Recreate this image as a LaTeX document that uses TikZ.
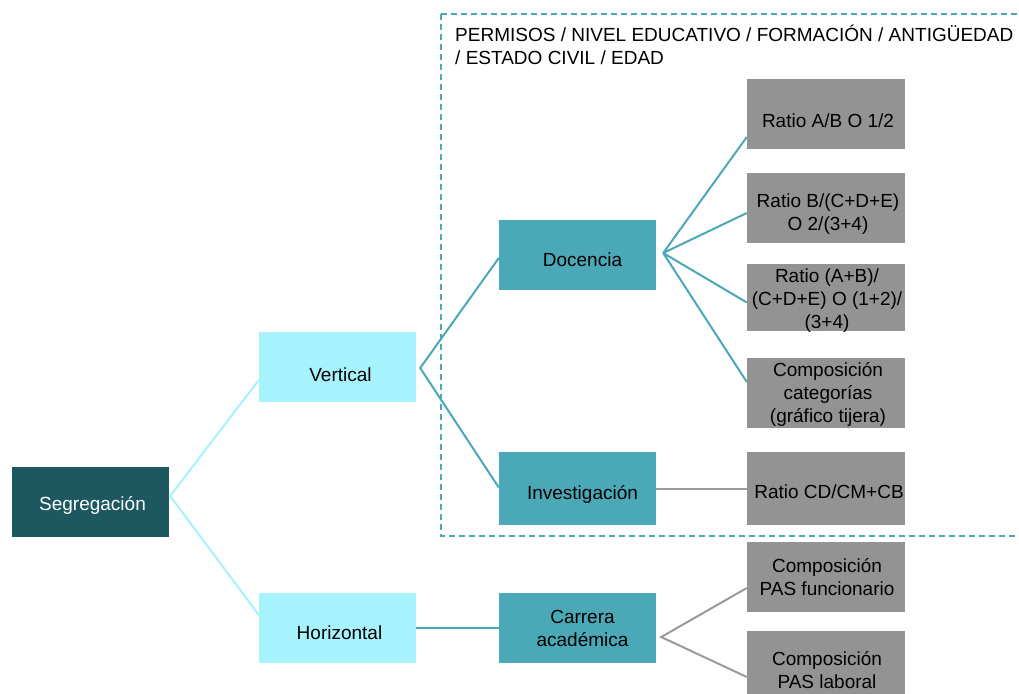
\documentclass[tikz,border=0pt]{standalone}
\usepackage{fontspec}
\setmainfont{Liberation Sans}
\usetikzlibrary{calc}
\definecolor{darkteal}{HTML}{1D5861}
\definecolor{lightcyan}{HTML}{A6F2FD}
\definecolor{midteal}{HTML}{4BA8B6}
\definecolor{boxgray}{HTML}{939393}
\definecolor{linegray}{HTML}{9A9A9A}
\tikzset{
  every node/.style={font=\fontsize{19}{23}\selectfont},
  every label/.style={align=center, inner sep=0pt, text=black},
  boxbase/.style={rectangle, inner sep=0pt, minimum width=157pt, minimum height=70pt, align=center},
  rootbox/.style={boxbase, fill=darkteal},
  lvlone/.style={boxbase, fill=lightcyan},
  lvltwo/.style={boxbase, fill=midteal},
  leafbox/.style={boxbase, minimum width=158pt, fill=boxgray},
  boxtext/.style n args={3}{label={[xshift=#1pt, yshift=-#2pt]center:{#3}}},
  conlight/.style={draw=lightcyan, line width=2pt},
  conteal/.style={draw=midteal, line width=2pt},
  congray/.style={draw=linegray, line width=2pt},
  framebox/.style={draw=midteal, line width=2pt, dash pattern=on 6pt off 4pt}
}
\begin{document}
\begin{tikzpicture}[x=1pt,y=-1pt]
\useasboundingbox (0,0) rectangle (1019,693);
\clip (0,0) rectangle (1019,693);
% dashed frame
\draw[framebox] (441,14) -- (1030,14) (441,14) -- (441,536) -- (1030,536);
\node[anchor=north west, align=left, inner sep=0pt, text=black] (hdr) at (455,25)
  {PERMISOS / NIVEL EDUCATIVO / FORMACIÓN / ANTIGÜEDAD\\/ ESTADO CIVIL / EDAD};

% nodes
\node[rootbox, label={[xshift=2pt, yshift=-3pt, text=white]center:Segregación}] (seg) at (90.5,502) {};
\node[lvlone, boxtext={3}{8}{Vertical}] (vert) at (337.5,367) {};
\node[lvlone, boxtext={2}{5}{Horizontal}] (hori) at (337.5,628) {};
\node[lvltwo, boxtext={5}{5}{Docencia}] (doc) at (577.5,255) {};
\node[lvltwo, minimum height=73pt, boxtext={5}{6}{Investigación}] (inv) at (577.5,488.5) {};
\node[lvltwo, boxtext={5}{0}{Carrera\\académica}] (car) at (577.5,628) {};
\node[leafbox, boxtext={2}{7}{Ratio A/B O 1/2}] (r1) at (826,114) {};
\node[leafbox, boxtext={2}{6}{Ratio B/(C+D+E)\\O 2/(3+4)}] (r2) at (826,208) {};
\node[leafbox, minimum height=67pt, boxtext={1}{3}{Ratio (A+B)/\\(C+D+E) O (1+2)/\\(3+4)}] (r3) at (826,297.5) {};
\node[leafbox, boxtext={2}{1}{Composición\\categorías\\(gráfico tijera)}] (r4) at (826,393) {};
\node[leafbox, minimum height=73pt, boxtext={3}{3}{Ratio CD/CM+CB}] (r5) at (826,488.5) {};
\node[leafbox, boxtext={1}{0}{Composición\\PAS funcionario}] (p1) at (826,577) {};
\node[leafbox, boxtext={1}{4}{Composición\\PAS laboral}] (p2) at (826,666) {};

% fan points
\coordinate (segfan) at ($(seg.east)+(1,-6)$);
\coordinate (vertfan) at ($(vert.east)+(4,1)$);
\coordinate (docfan) at ($(doc.east)+(7,-2)$);
\coordinate (carfan) at ($(car.east)+(5,9)$);

% connectors
\draw[conlight] ($(vert.west)+(0,13)$) -- (segfan) -- ($(hori.west)+(0,-13)$);
\draw[conteal] ($(doc.west)+(0,3)$) -- (vertfan) -- ($(inv.west)+(0,-1)$);
\draw[conteal] (hori.east) -- (car.west);
\draw[conteal] ($(r1.west)+(0,23)$) -- (docfan);
\draw[conteal] ($(r2.west)+(0,5)$) -- (docfan);
\draw[conteal] ($(r3.west)+(0,5)$) -- (docfan);
\draw[conteal] ($(r4.west)+(0,-11)$) -- (docfan);
\draw[congray] (inv.east) -- (r5.west);
\draw[congray] ($(p1.west)+(0,11)$) -- (carfan) -- ($(p2.west)+(0,11)$);
\end{tikzpicture}
\end{document}
